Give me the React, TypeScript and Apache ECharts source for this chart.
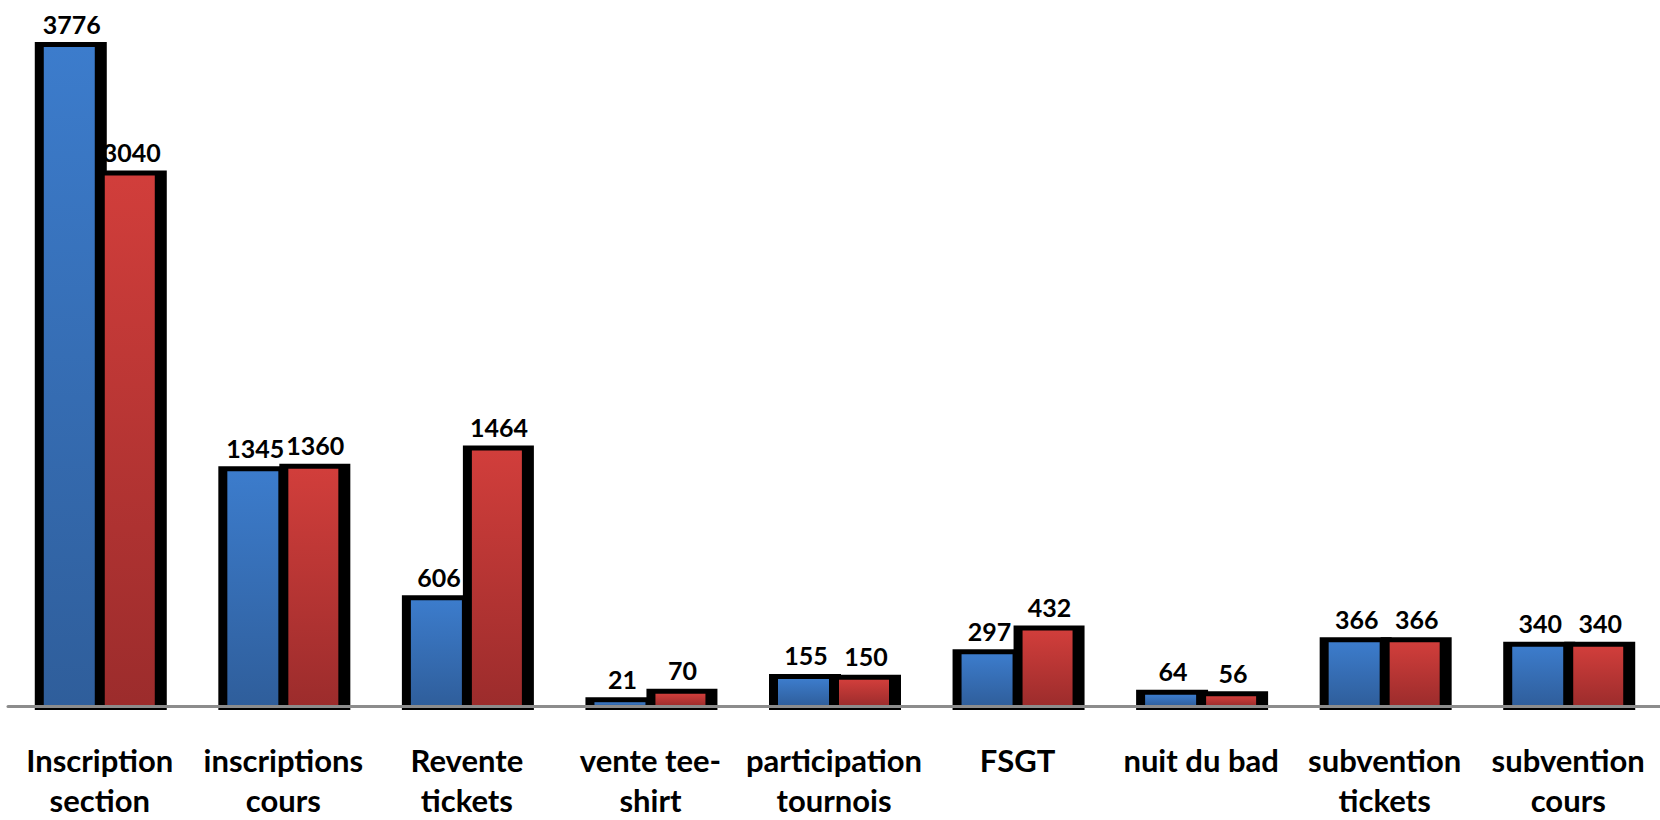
import React, { useEffect, useRef } from "react";
import * as echarts from "echarts";

const categories = [
  "Inscription\nsection",
  "inscriptions\ncours",
  "Revente\ntickets",
  "vente tee-\nshirt",
  "participation\ntournois",
  "FSGT",
  "nuit du bad",
  "subvention\ntickets",
  "subvention\ncours",
];
const blueValues = [3776, 1345, 606, 21, 155, 297, 64, 366, 340];
const redValues = [3040, 1360, 1464, 70, 150, 432, 56, 366, 340];

const FONT = "Lato, 'Open Sans', sans-serif";

export default function App() {
  const ref = useRef<HTMLDivElement>(null);
  useEffect(() => {
    if (!ref.current) return;
    const chart = echarts.init(ref.current, undefined, { renderer: "svg" });
    const grad = (top: string, bottom: string) =>
      new echarts.graphic.LinearGradient(0, 0, 0, 1, [
        { offset: 0, color: top },
        { offset: 1, color: bottom },
      ]);

    // offsets relative to category center: inner left, inner right, label center
    const makeRender =
      (innerL: number, innerR: number, labelDx: number, top: string, bottom: string) =>
      (params: any, api: any) => {
        const idx = api.value(0);
        const val = api.value(1);
        const pTop = api.coord([idx, val]);
        const pBase = api.coord([idx, 0]);
        const cx = pTop[0];
        const yTop = pTop[1];
        const y0 = pBase[1];
        const x0 = cx + innerL;
        const x1 = cx + innerR;
        const outerTop = yTop - 5;
        return {
          type: "group",
          children: [
            {
              type: "rect",
              shape: { x: x0 - 9, y: outerTop, width: x1 - x0 + 21, height: y0 + 4 - outerTop },
              style: { fill: "#000" },
            },
            {
              type: "rect",
              shape: { x: x0, y: yTop, width: x1 - x0, height: y0 - yTop },
              style: { fill: grad(top, bottom) },
            },
            {
              type: "text",
              style: {
                text: String(val),
                x: cx + labelDx,
                y: outerTop - 6,
                align: "center",
                verticalAlign: "bottom",
                fill: "#000",
                fontFamily: FONT,
                fontWeight: "bold",
                fontSize: 25,
              },
            },
          ],
        };
      };

    chart.setOption({
      animation: false,
      backgroundColor: "#fff",
      grid: { left: 8, right: 0, top: 8, bottom: 108, containLabel: false },
      xAxis: {
        type: "category",
        data: categories,
        axisLine: { show: true, lineStyle: { color: "#8c8c8c", width: 3 } },
        axisTick: { show: false },
        axisLabel: {
          margin: 34,
          color: "#000",
          fontFamily: FONT,
          fontWeight: "bold",
          fontSize: 31,
          lineHeight: 40,
          interval: 0,
        },
        z: 10,
      },
      yAxis: {
        type: "value",
        min: 0,
        max: 4000,
        show: false,
        splitLine: { show: false },
      },
      series: [
        {
          type: "custom",
          name: "blue",
          data: blueValues.map((v, i) => [i, v]),
          encode: { x: 0, y: 1 },
          renderItem: makeRender(-56, -5, -28, "#3c7ccc", "#2f5e9b"),
          z: 2,
        },
        {
          type: "custom",
          name: "red",
          data: redValues.map((v, i) => [i, v]),
          encode: { x: 0, y: 1 },
          renderItem: makeRender(5, 55, 32, "#d13e3b", "#9c2c2c"),
          z: 3,
        },
      ],
    });
    return () => chart.dispose();
  }, []);
  return (
    <div
      ref={ref}
      style={{ position: "fixed", left: 0, top: 0, width: 1660, height: 820 }}
    />
  );
}
